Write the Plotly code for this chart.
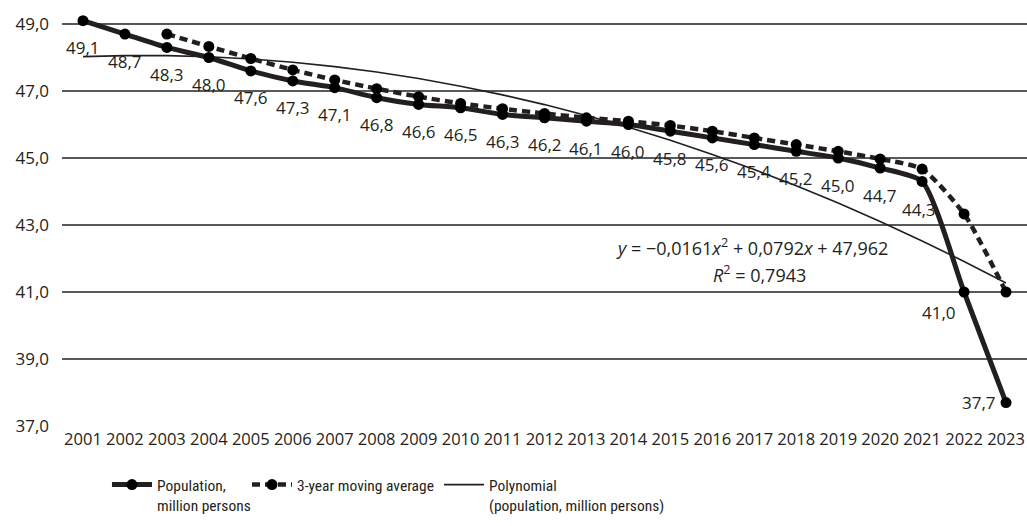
import plotly.graph_objects as go

years = list(range(2001, 2024))
population = [49.1, 48.7, 48.3, 48.0, 47.6, 47.3, 47.1, 46.8, 46.6, 46.5, 46.3, 46.2,
              46.1, 46.0, 45.8, 45.6, 45.4, 45.2, 45.0, 44.7, 44.3, 41.0, 37.7]
ma_years = list(range(2003, 2024))
moving_avg = [48.70, 48.33, 47.97, 47.63, 47.33, 47.07, 46.83, 46.63, 46.47, 46.33,
              46.20, 46.10, 45.97, 45.80, 45.60, 45.40, 45.20, 44.97, 44.67, 43.33, 41.00]
# trendline coefficients as printed on the chart
poly_a, poly_b, poly_c = -0.0161, 0.0792, 47.962
y_ticks = [37, 39, 41, 43, 45, 47, 49]
year_labels = [str(y) for y in years]

INK = "#231f20"
FONT = "Open Sans"
LEG_FONT = "Liberation Sans Narrow, Arial Narrow, Roboto Condensed, Open Sans"
FS = 17

poly_vals = [poly_a * (i + 1) ** 2 + poly_b * (i + 1) + poly_c for i in range(len(years))]

fig = go.Figure()
fig.add_trace(go.Scatter(
    x=years, y=poly_vals, mode="lines", name="Polynomial<br>(population, million persons)",
    line=dict(color=INK, width=1.6), legend="legend3", cliponaxis=False))
fig.add_trace(go.Scatter(
    x=years, y=population, mode="lines+markers", name="Population,<br>million persons",
    line=dict(color=INK, width=5, shape="spline", smoothing=0.6),
    marker=dict(color="#000000", size=11), legend="legend", cliponaxis=False))
fig.add_trace(go.Scatter(
    x=ma_years, y=moving_avg, mode="lines+markers", name="3-year moving average",
    line=dict(color=INK, width=4.5, dash="8px,5px", shape="spline", smoothing=0.6),
    marker=dict(color="#000000", size=11), legend="legend2", cliponaxis=False))

offsets = {2021: (-3, -28), 2022: (-25, -20), 2023: (-27, 0)}
for yr, v in zip(years, population):
    dx, dy = offsets.get(yr, (0, -27))
    fig.add_annotation(x=yr, y=v, text=f"{v:.1f}".replace(".", ","), showarrow=False,
                       xshift=dx, yshift=dy, font=dict(family=FONT, size=FS, color=INK))

fig.add_annotation(x=2016.94, y=42.34, showarrow=False,
                   text="<i>y</i> = −0,0161<i>x</i><sup>2</sup> + 0,0792<i>x</i> + 47,962",
                   font=dict(family=FONT, size=18, color=INK))
fig.add_annotation(x=2017.13, y=41.54, showarrow=False,
                   text="<i>R</i><sup>2</sup> = 0,7943",
                   font=dict(family=FONT, size=18, color=INK))

leg_common = dict(orientation="h", yanchor="top", y=-0.0986, xanchor="left",
                  valign="top", font=dict(family=LEG_FONT, size=15.5, color=INK),
                  itemwidth=40, bgcolor="rgba(0,0,0,0)")

fig.update_layout(
    width=1027, height=526,
    margin=dict(l=62, r=0, t=11, b=99),
    paper_bgcolor="white", plot_bgcolor="white",
    separators=", ",
    font=dict(family=FONT, size=FS, color=INK),
    showlegend=True,
    legend=dict(x=0.0466, **leg_common),
    legend2=dict(x=0.1917, **leg_common),
    legend3=dict(x=0.3907, **leg_common),
    xaxis=dict(range=[2000.5, 2023.5], tickvals=years, ticktext=year_labels,
               showgrid=False, zeroline=False, showline=False, ticks="",
               tickfont=dict(family=FONT, size=16.5, color=INK), fixedrange=True),
    yaxis=dict(range=[37 - 1 / 33.5, 49 + 13 / 33.5], tickvals=y_ticks, tickformat=".1f",
               showgrid=True, gridcolor="#58595b", gridwidth=1.5, zeroline=False,
               showline=False, ticks="", ticklabelstandoff=12,
               tickfont=dict(family=FONT, size=FS, color=INK)),
)

fig.write_html("out.html", config={"displayModeBar": False},
               post_script="document.body.style.margin='0px';")
